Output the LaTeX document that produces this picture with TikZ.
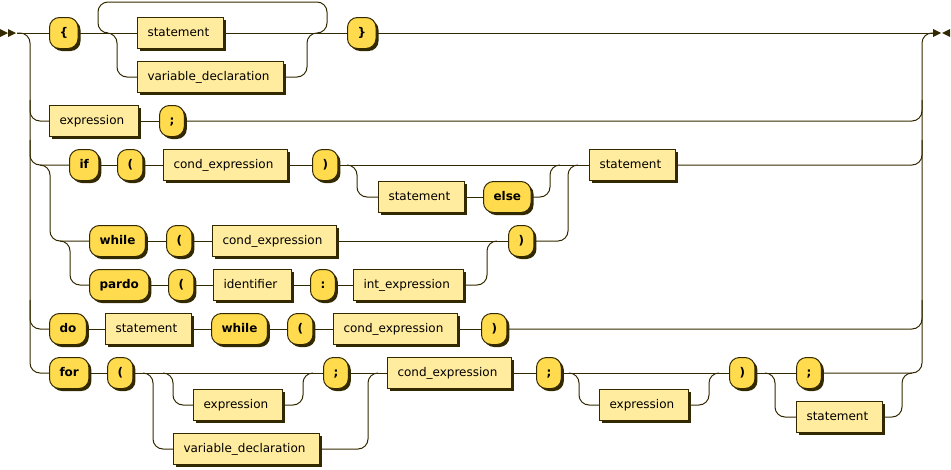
\documentclass[tikz,border=0pt]{standalone}
\usepackage{fontspec}
\setmainfont{DejaVu Sans}
\usetikzlibrary{shadows}
\definecolor{railcol}{HTML}{332900}
\definecolor{termfill}{HTML}{FFDB4D}
\definecolor{ntfill}{HTML}{FFEC9E}

\begin{document}
\begin{tikzpicture}[
        x=1pt, y=-1pt,
        box/.style={draw=railcol, line width=1pt, anchor=west, minimum height=31pt, inner xsep=10pt,
            text height=9pt, text depth=3pt, font=\fontsize{12}{14}\selectfont,
            drop shadow={shadow xshift=2.5pt, shadow yshift=-2.5pt, fill=railcol, opacity=1}},
        nonterm/.style={box, rectangle, fill=ntfill, execute at end node=\hspace*{4pt}},
        term/.style={box, rectangle, rounded corners=10pt, fill=termfill, font=\fontsize{12}{14}\selectfont\bfseries},
        rail/.style={draw=railcol, line width=1pt, rounded corners=10pt},
        ]
        \useasboundingbox (0,0) rectangle (951,469);

        % Nodes
        \node[term] (OpenBrace) at (49,33) {\{};
        \node[nonterm] (BlockStatement) at (137,33) {statement};
        \node[nonterm] (BlockDecl) at (137,77) {variable\_declaration};
        \node[term] (CloseBrace) at (347,33) {\}};
        \node[nonterm] (ExprStmt) at (49,121) {expression};
        \node[term] (ExprSemi) at (159,121) {;};
        \node[term] (IfKey) at (69,165) {if};
        \node[term] (IfOpen) at (117,165) {(};
        \node[nonterm] (IfCond) at (163,165) {cond\_expression};
        \node[term] (IfClose) at (312,165) {)};
        \node[nonterm] (ThenStmt) at (378,197) {statement};
        \node[term] (ElseKey) at (483,197) {else};
        \node[nonterm] (BodyStmt) at (589,165) {statement};
        \node[term] (WhileKey) at (89,241) {while};
        \node[term] (WhileOpen) at (166,241) {(};
        \node[nonterm] (WhileCond) at (212,241) {cond\_expression};
        \node[term] (LoopClose) at (508,241) {)};
        \node[term] (PardoKey) at (89,285) {pardo};
        \node[term] (PardoOpen) at (168,285) {(};
        \node[nonterm] (PardoIdent) at (213,285) {identifier};
        \node[term] (PardoColon) at (310,285) {:};
        \node[nonterm] (PardoRange) at (353,285) {int\_expression};
        \node[term] (DoKey) at (49,329) {do};
        \node[nonterm] (DoStmt) at (105,329) {statement};
        \node[term] (DoWhile) at (211,329) {while};
        \node[term] (DoOpen) at (287,329) {(};
        \node[nonterm] (DoCond) at (333,329) {cond\_expression};
        \node[term] (DoClose) at (481,329) {)};
        \node[term] (ForKey) at (49,373) {for};
        \node[term] (ForOpen) at (107,373) {(};
        \node[nonterm] (ForInit) at (193,405) {expression};
        \node[term] (ForInitSemi) at (323,373) {;};
        \node[nonterm] (ForDecl) at (173,449) {variable\_declaration};
        \node[nonterm] (ForCond) at (387,373) {cond\_expression};
        \node[term] (ForCondSemi) at (536,373) {;};
        \node[nonterm] (ForStep) at (599,405) {expression};
        \node[term] (ForClose) at (729,373) {)};
        \node[term] (ForSemi) at (796,373) {;};
        \node[nonterm] (ForBody) at (796,417) {statement};

        \coordinate (Start) at (17,33);
        \coordinate (End) at (933,33);

        % Start and end marks
        \fill[railcol] (0,29) -- (8,33) -- (0,37) -- cycle;
        \fill[railcol] (8,29) -- (16,33) -- (8,37) -- cycle;
        \fill[railcol] (933,29) -- (941,33) -- (933,37) -- cycle;
        \fill[railcol] (950,29) -- (942,33) -- (950,37) -- cycle;

        % Straight connections
        \foreach \a/\b in {OpenBrace/BlockStatement, BlockStatement/CloseBrace, ExprStmt/ExprSemi,
                IfKey/IfOpen, IfOpen/IfCond, IfCond/IfClose, IfClose/BodyStmt, ThenStmt/ElseKey,
                WhileKey/WhileOpen, WhileOpen/WhileCond, WhileCond/LoopClose,
                PardoKey/PardoOpen, PardoOpen/PardoIdent, PardoIdent/PardoColon, PardoColon/PardoRange,
                DoKey/DoStmt, DoStmt/DoWhile, DoWhile/DoOpen, DoOpen/DoCond, DoCond/DoClose,
                ForKey/ForOpen, ForOpen/ForInitSemi, ForInitSemi/ForCond, ForCond/ForCondSemi,
                ForCondSemi/ForClose, ForClose/ForSemi}
            \draw[rail] (\a) -- (\b);
        \draw[rail] (Start) -- (OpenBrace);
        \draw[rail] (CloseBrace) -- (End);

        % Left rail
        \draw[rail] (Start) -- (30,33) -- (30,373) -- (ForKey);
        \draw[rail] (30,100) -- (30,121) -- (ExprStmt);
        \draw[rail] (30,140) -- (30,165) -- (IfKey);
        \draw[rail] (30,300) -- (30,329) -- (DoKey);

        % Block: one or more statements
        \draw[rail] (317,33) -- (327,33) -- (327,2) -- (98,2) -- (98,33) -- (108,33);
        \draw[rail] (107,33) -- (117,33) -- (117,77) -- (BlockDecl);
        \draw[rail] (BlockDecl) -- (307,77) -- (307,33) -- (317,33);

        % if / while / pardo
        \draw[rail] (347,165) -- (357,165) -- (357,197) -- (ThenStmt);
        \draw[rail] (ElseKey) -- (550,197) -- (550,165) -- (560,165);
        \draw[rail] (40,165) -- (50,165) -- (50,241) -- (WhileKey);
        \draw[rail] (60,241) -- (70,241) -- (70,285) -- (PardoKey);
        \draw[rail] (PardoRange) -- (487,285) -- (487,241) -- (497,241);
        \draw[rail] (LoopClose) -- (568,241) -- (568,165) -- (578,165);

        % for
        \draw[rail] (163,373) -- (173,373) -- (173,405) -- (ForInit);
        \draw[rail] (ForInit) -- (303,405) -- (303,373) -- (313,373);
        \draw[rail] (143,373) -- (153,373) -- (153,449) -- (ForDecl);
        \draw[rail] (ForDecl) -- (368,449) -- (368,373) -- (378,373);
        \draw[rail] (569,373) -- (579,373) -- (579,405) -- (ForStep);
        \draw[rail] (ForStep) -- (709,405) -- (709,373) -- (719,373);
        \draw[rail] (765,373) -- (775,373) -- (775,417) -- (ForBody);
        \draw[rail] (ForBody) -- (902,417) -- (902,373) -- (912,373);

        % Right rail
        \draw[rail] (ForSemi) -- (922,373) -- (922,33) -- (End);
        \draw[rail] (ExprSemi) -- (922,121) -- (922,100);
        \draw[rail] (BodyStmt) -- (922,165) -- (922,140);
        \draw[rail] (DoClose) -- (922,329) -- (922,300);

    \end{tikzpicture}
\end{document}
